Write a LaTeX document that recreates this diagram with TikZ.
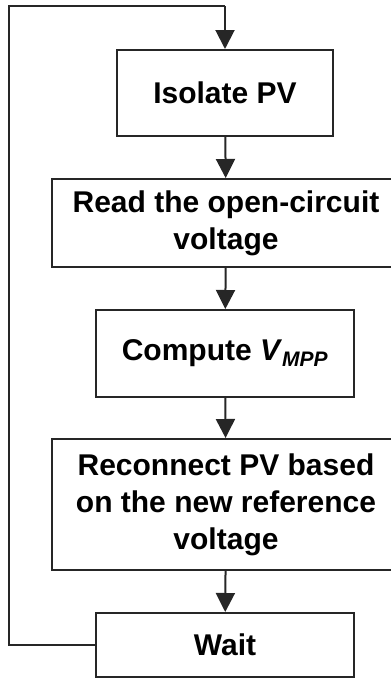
\documentclass[tikz,border=0pt]{standalone}
\usepackage{fontspec}
\setmainfont{Liberation Sans}
\usetikzlibrary{arrows.meta}
\begin{document}
\begin{tikzpicture}[x=1pt,y=-1pt,
  stepbox/.style={draw=black!85, line width=2pt, align=center, inner sep=0pt,
    font=\fontsize{30}{37}\selectfont\bfseries},
  flow/.style={draw=black!85, line width=2pt, -{Triangle[length=19pt,width=19pt]}},
  loopline/.style={draw=black!85, line width=2pt}]
\useasboundingbox (0,0) rectangle (391,678);
\node[stepbox, minimum width=216pt, minimum height=86pt] (b1) at (225,93) {Isolate PV};
\node[stepbox, minimum width=348pt, minimum height=88pt] (b2) at (226,223) {Read the open-circuit\\voltage};
\node[stepbox, minimum width=258pt, minimum height=87pt] (b3) at (225,353.5) {Compute \textit{V}\textsubscript{\textit{MPP}}};
\node[stepbox, minimum width=348pt, minimum height=131pt] (b4) at (226,504.5) {Reconnect PV based\\on the new reference\\voltage};
\node[stepbox, minimum width=258pt, minimum height=64pt] (b5) at (225,645) {Wait};
\coordinate (c1) at (9,645);
\coordinate (c2) at (9,6);
\coordinate (c3) at (b1.north |- c2);
\draw[flow] (b1) -- (b2);
\draw[flow] (b2) -- (b3);
\draw[flow] (b3) -- (b4);
\draw[flow] (b4) -- (b5);
\draw[loopline] (b5.west) -- (c1) -- (c2) -- (c3);
\draw[flow] (c3) -- (b1.north);
\end{tikzpicture}
\end{document}
